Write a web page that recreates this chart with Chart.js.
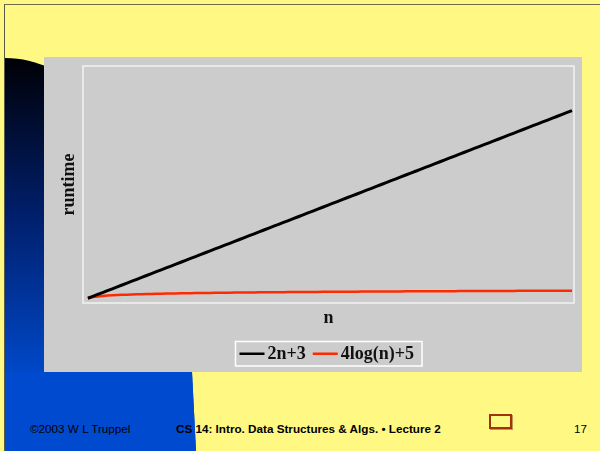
<!DOCTYPE html>
<html><head><meta charset="utf-8">
<script src="https://cdn.jsdelivr.net/npm/chart.js@4.4.1/dist/chart.umd.min.js"></script>
<style>
html,body{margin:0;padding:0;}
body{width:600px;height:451px;overflow:hidden;position:relative;background:#FFF983;font-family:"Liberation Sans",Arial,sans-serif;}
#blob{position:absolute;left:0;top:0;}
#frame{position:absolute;left:4px;top:4px;width:700px;height:500px;border-left:1.5px solid #5a5a48;border-top:1.5px solid #6e6c4c;}
#panel{position:absolute;left:44px;top:57px;width:538px;height:315px;background:#cccccc;}
#panel canvas{display:block;}
.foot{position:absolute;top:422px;font-size:11.7px;line-height:14px;color:#000;white-space:nowrap;}
#icon{position:absolute;left:489px;top:414px;width:19px;height:11px;border:2px solid #a2320e;background:#fff983;box-shadow:1px 1px 0 #c89050;}
</style></head>
<body>
<svg id="blob" width="600" height="451">
<defs><linearGradient id="g" x1="0" y1="58" x2="0" y2="380" gradientUnits="userSpaceOnUse">
<stop offset="0" stop-color="#000006"/><stop offset="0.5" stop-color="#00206e"/><stop offset="1" stop-color="#004acc"/></linearGradient></defs>
<path d="M5,58 C22,58 36,62 50,68 L186,320 L192,372 L196,451 L5,451 Z" fill="url(#g)"/>
<rect x="5" y="372" width="200" height="79" fill="#004acf" clip-path="url(#c)"/>
<clipPath id="c"><path d="M5,372 L192,372 L196,451 L5,451 Z"/></clipPath>
</svg>
<div id="frame"></div>
<div id="panel"><canvas id="chart" width="538" height="315"></canvas></div>
<div class="foot" style="left:30px;">©2003 W L Truppel</div>
<div class="foot" style="left:176px;font-weight:bold;">CS 14: Intro. Data Structures &amp; Algs. • Lecture 2</div>
<div id="icon"></div>
<div class="foot" style="right:13px;">17</div>
<script>
const nValues = [1,2,3,4,5,6,7,8,9,10,11,12,13,14,15,16,17,18,19,20,
21,22,23,24,25,26,27,28,29,30,31,32,33,34,35,36,37,38,39,40,
41,42,43,44,45,46,47,48,49,50,51,52,53,54,55,56,57,58,59,60,
61,62,63,64,65,66,67,68,69,70,71,72,73,74,75,76,77,78,79,80,
81,82,83,84,85,86,87,88,89,90,91,92,93,94,95,96,97,98,99,100];
const linearRuntime = [5,7,9,11,13,15,17,19,21,23,
25,27,29,31,33,35,37,39,41,43,
45,47,49,51,53,55,57,59,61,63,
65,67,69,71,73,75,77,79,81,83,
85,87,89,91,93,95,97,99,101,103,
105,107,109,111,113,115,117,119,121,123,
125,127,129,131,133,135,137,139,141,143,
145,147,149,151,153,155,157,159,161,163,
165,167,169,171,173,175,177,179,181,183,
185,187,189,191,193,195,197,199,201,203];
const logRuntime = [5.00,6.20,6.91,7.41,7.80,8.11,8.38,8.61,8.82,9.00,
9.17,9.32,9.46,9.58,9.70,9.82,9.92,10.02,10.12,10.20,
10.29,10.37,10.45,10.52,10.59,10.66,10.73,10.79,10.85,10.91,
10.97,11.02,11.07,11.13,11.18,11.23,11.27,11.32,11.36,11.41,
11.45,11.49,11.53,11.57,11.61,11.65,11.69,11.72,11.76,11.80,
11.83,11.86,11.90,11.93,11.96,11.99,12.02,12.05,12.08,12.11,
12.14,12.17,12.20,12.22,12.25,12.28,12.30,12.33,12.36,12.38,
12.41,12.43,12.45,12.48,12.50,12.52,12.55,12.57,12.59,12.61,
12.63,12.66,12.68,12.70,12.72,12.74,12.76,12.78,12.80,12.82,
12.84,12.86,12.87,12.89,12.91,12.93,12.95,12.96,12.98,13.00];
const seriesLabels = ['2n+3', '4log(n)+5'];
const seriesColors = ['#000000', '#ff2b00'];
const xAxisTitle = 'n';
const yAxisTitle = 'runtime';

const serifBold = {family: '"Liberation Serif", "Times New Roman", serif', weight: 'bold', size: 18};

const plotBorder = {
  id: 'plotBorder',
  beforeDatasetsDraw(chart) {
    const {ctx, chartArea: a} = chart;
    ctx.save();
    ctx.strokeStyle = '#f2f2f2';
    ctx.lineWidth = 1.5;
    ctx.strokeRect(a.left, a.top, a.right - a.left, a.bottom - a.top);
    ctx.restore();
  }
};

const boxLegend = {
  id: 'boxLegend',
  afterDraw(chart) {
    const ctx = chart.ctx;
    const ds = chart.data.datasets;
    ctx.save();
    ctx.font = 'bold 18px "Liberation Serif", "Times New Roman", serif';
    const lineLen = 25, gapLT = 3, gapItem = 7, padL = 4, padR = 8;
    let total = padL;
    ds.forEach((d, i) => {
      total += lineLen + gapLT + ctx.measureText(d.label).width;
      if (i < ds.length - 1) total += gapItem;
    });
    total += padR;
    const cx = (chart.chartArea.left + chart.chartArea.right) / 2;
    const x0 = Math.round(cx - total / 2) + 0.5;
    const top = chart.height - 30.5, h = 24.5;
    ctx.strokeStyle = '#ffffff';
    ctx.lineWidth = 1.5;
    ctx.strokeRect(x0, top, total, h);
    let x = x0 + padL;
    const cy = top + h / 2;
    ds.forEach((d, i) => {
      ctx.strokeStyle = d.borderColor;
      ctx.lineWidth = 2.5;
      ctx.beginPath();
      ctx.moveTo(x, cy);
      ctx.lineTo(x + lineLen, cy);
      ctx.stroke();
      x += lineLen + gapLT;
      ctx.fillStyle = '#111111';
      ctx.textBaseline = 'middle';
      ctx.textAlign = 'left';
      ctx.fillText(d.label, x, cy + 1);
      x += ctx.measureText(d.label).width + gapItem;
    });
    ctx.restore();
  }
};

new Chart(document.getElementById('chart'), {
  type: 'line',
  data: {
    datasets: [
      {label: seriesLabels[0], data: nValues.map((n, i) => ({x: n, y: linearRuntime[i]})),
       borderColor: seriesColors[0], backgroundColor: seriesColors[0], borderWidth: 3, pointRadius: 0, tension: 0},
      {label: seriesLabels[1], data: nValues.map((n, i) => ({x: n, y: logRuntime[i]})),
       borderColor: seriesColors[1], backgroundColor: seriesColors[1], borderWidth: 2.5, pointRadius: 0, tension: 0}
    ]
  },
  options: {
    responsive: false,
    animation: false,
    devicePixelRatio: 1,
    layout: {autoPadding: false, padding: {left: 0, top: 9, right: 8, bottom: 43}},
    plugins: {legend: {display: false}, tooltip: {enabled: false}},
    scales: {
      x: {
        type: 'linear', min: 0, max: 100.4,
        ticks: {display: false}, grid: {display: false}, border: {display: false},
        title: {display: true, text: xAxisTitle, font: serifBold, color: '#111111', padding: 0},
        afterFit: s => { s.height = 26; }
      },
      y: {
        type: 'linear', min: 0, max: 250,
        ticks: {display: false}, grid: {display: false}, border: {display: false},
        title: {display: true, text: yAxisTitle, font: serifBold, color: '#111111', padding: {top: 14.2, bottom: 0}},
        afterFit: s => { s.width = 39; }
      }
    }
  },
  plugins: [plotBorder, boxLegend]
});
</script>
</body></html>
